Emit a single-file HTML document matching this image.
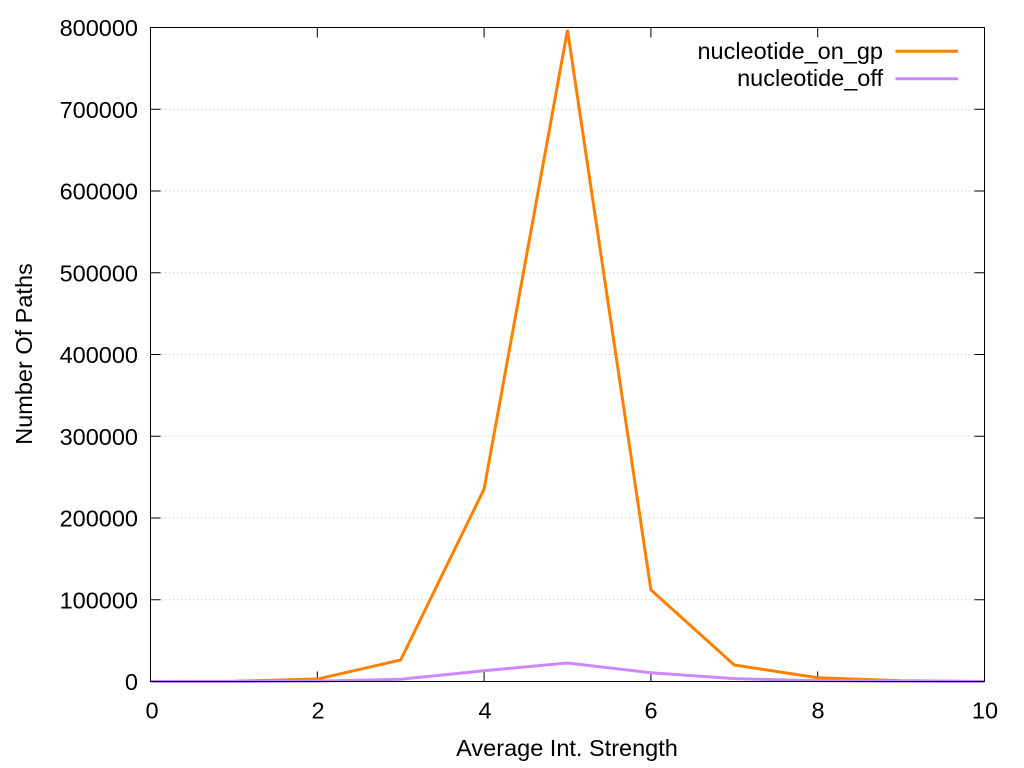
<!DOCTYPE html>
<html>
<head>
<meta charset="utf-8">
<style>
  html, body { margin: 0; padding: 0; background: #fff; }
  svg { display: block; }
  text { font-family: "Liberation Sans", Arial, sans-serif; font-size: 23.5px; fill: #000; }
</style>
</head>
<body>
<svg width="1024" height="768" viewBox="0 0 1024 768" xmlns="http://www.w3.org/2000/svg">
  <rect x="0" y="0" width="1024" height="768" fill="#fff"/>

  <!-- grid lines -->
  <g stroke="#bbbbbb" stroke-width="1" stroke-dasharray="1,3">
    <line x1="161" y1="599.75" x2="974" y2="599.75"/>
    <line x1="161" y1="518" x2="974" y2="518"/>
    <line x1="161" y1="436.25" x2="974" y2="436.25"/>
    <line x1="161" y1="354.5" x2="974" y2="354.5"/>
    <line x1="161" y1="272.75" x2="974" y2="272.75"/>
    <line x1="161" y1="191" x2="974" y2="191"/>
    <line x1="161" y1="109.25" x2="974" y2="109.25"/>
  </g>

  <!-- ticks -->
  <g stroke="#000" stroke-width="1">
    <line x1="150.5" y1="681.5" x2="160.5" y2="681.5"/>
    <line x1="150.5" y1="599.75" x2="160.5" y2="599.75"/>
    <line x1="150.5" y1="518" x2="160.5" y2="518"/>
    <line x1="150.5" y1="436.25" x2="160.5" y2="436.25"/>
    <line x1="150.5" y1="354.5" x2="160.5" y2="354.5"/>
    <line x1="150.5" y1="272.75" x2="160.5" y2="272.75"/>
    <line x1="150.5" y1="191" x2="160.5" y2="191"/>
    <line x1="150.5" y1="109.25" x2="160.5" y2="109.25"/>

    <line x1="974.5" y1="681.5" x2="984.5" y2="681.5"/>
    <line x1="974.5" y1="599.75" x2="984.5" y2="599.75"/>
    <line x1="974.5" y1="518" x2="984.5" y2="518"/>
    <line x1="974.5" y1="436.25" x2="984.5" y2="436.25"/>
    <line x1="974.5" y1="354.5" x2="984.5" y2="354.5"/>
    <line x1="974.5" y1="272.75" x2="984.5" y2="272.75"/>
    <line x1="974.5" y1="191" x2="984.5" y2="191"/>
    <line x1="974.5" y1="109.25" x2="984.5" y2="109.25"/>

    <line x1="317.3" y1="681.5" x2="317.3" y2="671.5"/>
    <line x1="484.1" y1="681.5" x2="484.1" y2="671.5"/>
    <line x1="650.9" y1="681.5" x2="650.9" y2="671.5"/>
    <line x1="817.7" y1="681.5" x2="817.7" y2="671.5"/>

    <line x1="317.3" y1="27.5" x2="317.3" y2="37.5"/>
    <line x1="484.1" y1="27.5" x2="484.1" y2="37.5"/>
    <line x1="650.9" y1="27.5" x2="650.9" y2="37.5"/>
    <line x1="817.7" y1="27.5" x2="817.7" y2="37.5"/>
  </g>

  <!-- y tick labels -->
  <g text-anchor="end">
    <text x="138" y="690">0</text>
    <text x="138" y="608.25">100000</text>
    <text x="138" y="526.5">200000</text>
    <text x="138" y="444.75">300000</text>
    <text x="138" y="363">400000</text>
    <text x="138" y="281.25">500000</text>
    <text x="138" y="199.5">600000</text>
    <text x="138" y="117.75">700000</text>
    <text x="138" y="36">800000</text>
  </g>

  <!-- x tick labels -->
  <g text-anchor="middle">
    <text x="152" y="718.5">0</text>
    <text x="318" y="718.5">2</text>
    <text x="485" y="718.5">4</text>
    <text x="651" y="718.5">6</text>
    <text x="818" y="718.5">8</text>
    <text x="985" y="718.5">10</text>
  </g>

  <!-- axis titles -->
  <text x="567" y="756" text-anchor="middle">Average Int. Strength</text>
  <text transform="translate(32,354) rotate(-90)" text-anchor="middle">Number Of Paths</text>

  <!-- series -->
  <polyline fill="none" stroke="#ff8000" stroke-width="3" stroke-linejoin="miter"
    points="150.5,681.5 233.9,681.3 317.3,679.05 400.7,660.0 484.1,489.0 567.5,30.0 650.9,589.9 734.3,665.0 817.7,677.7 901.1,680.8 984.5,681.5"/>
  <polyline fill="none" stroke="#cc88ff" stroke-width="3" stroke-linejoin="miter"
    points="150.5,681.5 233.9,681.5 317.3,681.1 400.7,679.3 484.1,670.7 567.5,663.0 650.9,672.7 734.3,678.6 817.7,680.8 901.1,681.3 984.5,681.5"/>

  <!-- border -->
  <rect x="150.5" y="27.5" width="834" height="654" fill="none" stroke="#000" stroke-width="1"/>

  <!-- legend -->
  <text x="883" y="59" text-anchor="end">nucleotide_on_gp</text>
  <line x1="895.5" y1="51.3" x2="958" y2="51.3" stroke="#ff8000" stroke-width="3"/>
  <text x="883" y="86" text-anchor="end">nucleotide_off</text>
  <line x1="895.5" y1="78.8" x2="958" y2="78.8" stroke="#cc88ff" stroke-width="3"/>
</svg>
</body>
</html>
